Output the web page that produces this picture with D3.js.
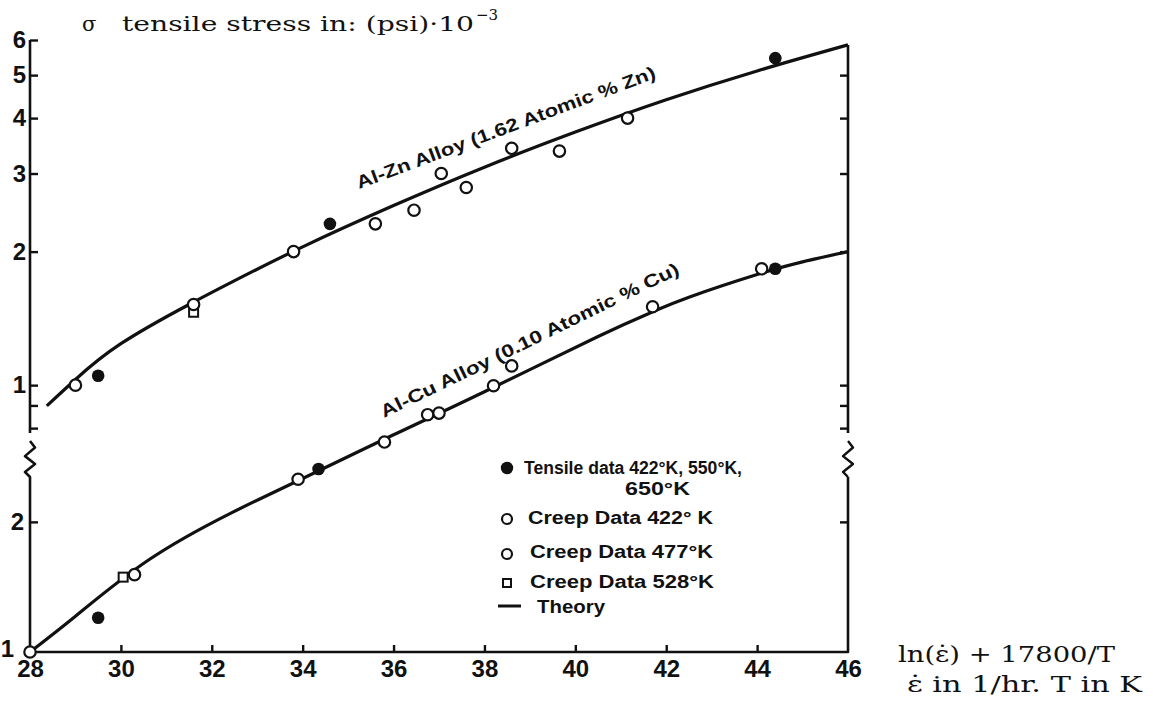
<!DOCTYPE html>
<html>
<head>
<meta charset="utf-8">
<script src="https://cdn.jsdelivr.net/npm/d3@7"></script>
<style>
  body { margin: 0; background: #fff; }
  svg { display: block; }
</style>
</head>
<body>
<svg id="chart" width="1153" height="702"></svg>
<script>
// ---- data -------------------------------------------------------------
// abscissa: ln(strain rate) + 17800/T
const xTicks = [28, 30, 32, 34, 36, 38, 40, 42, 44, 46];

// upper stress scale (Al-Zn), (psi)*10^-3
const znTicks = [0.8, 0.9, 1, 2, 3, 4, 5, 6];
const znTickLabels = ["", "", "1", "2", "3", "4", "5", "6"];

// lower stress scale (Al-Cu)
const cuTicks = [1, 2];
const cuTickLabels = ["1", "2"];

// Al-Zn alloy (1.62 atomic % Zn)
const znTheory = [[28.37, 0.898], [29, 1.03], [30, 1.24], [31.5, 1.52], [32.6, 1.74],
  [34, 2.05], [36, 2.54], [38, 3.10], [40, 3.72], [42, 4.40], [44, 5.11], [46, 5.85]];
const znTensile = [[29.5, 1.05], [34.6, 2.31], [44.4, 5.46]];
const znCreep = [[29.0, 1.0], [31.6, 1.52], [33.8, 2.0], [35.6, 2.31], [36.45, 2.48],
  [37.05, 3.0], [37.6, 2.79], [38.6, 3.42], [39.65, 3.37], [41.15, 4.0]];
const znCreep528 = [[31.6, 1.46]];

// Al-Cu alloy (0.10 atomic % Cu)
const cuTheory = [[28, 1.0], [29, 1.21], [30.6, 1.63], [32.4, 2.09], [34, 2.52],
  [36, 3.18], [38, 4.0], [40.5, 5.37], [41.7, 6.12], [42.5, 6.62], [44, 7.47],
  [45, 7.99], [46, 8.44]];
const cuTensile = [[29.5, 1.2], [34.35, 2.65], [44.4, 7.7]];
const cuCreep = [[28, 1.0], [30.3, 1.51], [33.9, 2.51], [35.8, 3.06], [36.75, 3.54],
  [37.0, 3.57], [38.2, 4.13], [38.6, 4.59], [41.7, 6.29], [44.1, 7.7]];
const cuCreep528 = [[30.05, 1.49]];

const legendLabels = ["Tensile data 422°K, 550°K,", "650°K", "Creep Data 422° K",
  "Creep Data 477°K", "Creep Data 528°K", "Theory"];
const curveLabels = ["Al-Zn Alloy (1.62 Atomic % Zn)", "Al-Cu Alloy (0.10 Atomic % Cu)"];

// ---- scales -----------------------------------------------------------
const svg = d3.select("#chart");
const ink = "#111";

const x = d3.scaleLinear().domain([28, 46]).range([30, 848]);
const yZn = d3.scaleLog().domain([0.78, 6]).range([433, 40]);
const yCu = d3.scaleLog().domain([1, 2.54]).range([652, 477]);

const xL = x(28), xR = x(46);
const yBottom = yCu(1);
const brkTop = yZn.range()[0] + 8;
const brkBot = yCu.range()[1];

const sansBold = "'Liberation Sans', Arial, sans-serif";
const serif = "'DejaVu Serif', 'Liberation Serif', serif";

// ---- frame with broken ordinate --------------------------------------
function zigzag(px) {
  const h = brkBot - brkTop;
  return `L${px},${brkTop} L${px + 5},${brkTop + h * 0.18} L${px - 5},${brkTop + h * 0.42} ` +
         `L${px + 5},${brkTop + h * 0.64} L${px - 5},${brkTop + h * 0.86} L${px},${brkBot}`;
}
const rightTop = yZn(znTheory[znTheory.length - 1][1]);
const framePath =
  `M${xL},${yZn(6)} L${xL},${yZn.range()[0]} M${xL},${brkTop} ${zigzag(xL)} ` +
  `L${xL},${yBottom} L${xR},${yBottom} L${xR},${brkBot} ` +
  `M${xR},${yZn.range()[0]} L${xR},${rightTop}`;
svg.append("path").attr("d", framePath)
  .attr("fill", "none").attr("stroke", ink).attr("stroke-width", 2.6)
  .attr("stroke-linejoin", "round");
svg.append("path")
  .attr("d", `M${xR},${brkTop} ${zigzag(xR)}`)
  .attr("fill", "none").attr("stroke", ink).attr("stroke-width", 2.4)
  .attr("stroke-linejoin", "round");

function styleAxis(g, size) {
  g.select(".domain").remove();
  g.selectAll(".tick line").attr("stroke", ink).attr("stroke-width", 2.4);
  g.selectAll(".tick text").attr("fill", ink)
    .style("font-family", sansBold).style("font-weight", "bold")
    .style("font-size", size + "px");
}

// left ordinate, upper part
svg.append("g").attr("transform", `translate(${xL},0)`)
  .call(d3.axisLeft(yZn).tickValues(znTicks)
    .tickFormat(d => znTickLabels[znTicks.indexOf(d)])
    .tickSizeInner(-8).tickSizeOuter(0).tickPadding(4))
  .call(g => styleAxis(g, 24));

// left ordinate, lower part
svg.append("g").attr("transform", `translate(${xL},0)`)
  .call(d3.axisLeft(yCu).tickValues(cuTicks)
    .tickFormat(d => cuTickLabels[cuTicks.indexOf(d)])
    .tickSizeInner(-8).tickSizeOuter(0).tickPadding(6))
  .call(g => styleAxis(g, 24))
  .call(g => g.selectAll(".tick").filter(d => d === 1).select("text").attr("x", -16).attr("dy", "0.2em"))
  .call(g => g.selectAll(".tick").filter(d => d === 1).select("line").remove());

// right ordinate ticks
svg.append("g").attr("transform", `translate(${xR},0)`)
  .call(d3.axisRight(yZn).tickValues(znTicks.filter(d => d < 6)).tickFormat("")
    .tickSizeInner(-8).tickSizeOuter(0))
  .call(g => styleAxis(g, 24));
svg.append("g").attr("transform", `translate(${xR},0)`)
  .call(d3.axisRight(yCu).tickValues([2]).tickFormat("")
    .tickSizeInner(-8).tickSizeOuter(0))
  .call(g => styleAxis(g, 24));

// abscissa
svg.append("g").attr("transform", `translate(0,${yBottom})`)
  .call(d3.axisBottom(x).tickValues(xTicks).tickFormat(d3.format("d"))
    .tickSizeInner(-7).tickSizeOuter(0).tickPadding(8))
  .call(g => styleAxis(g, 24))
  .call(g => g.selectAll(".tick").filter(d => d === 28 || d === 46).select("line").remove());

// ---- theory curves ----------------------------------------------------
const lineZn = d3.line().x(d => x(d[0])).y(d => yZn(d[1])).curve(d3.curveNatural);
const lineCu = d3.line().x(d => x(d[0])).y(d => yCu(d[1])).curve(d3.curveNatural);

svg.append("path").datum(znTheory).attr("d", lineZn)
  .attr("fill", "none").attr("stroke", ink).attr("stroke-width", 3.2);
svg.append("path").datum(cuTheory).attr("d", lineCu)
  .attr("fill", "none").attr("stroke", ink).attr("stroke-width", 3.2);

// ---- data points ------------------------------------------------------
function openCircles(data, ys) {
  svg.append("g").selectAll("circle").data(data).join("circle")
    .attr("cx", d => x(d[0])).attr("cy", d => ys(d[1])).attr("r", 5.7)
    .attr("fill", "#fff").attr("stroke", ink).attr("stroke-width", 2.2);
}
function filledCircles(data, ys) {
  svg.append("g").selectAll("circle").data(data).join("circle")
    .attr("cx", d => x(d[0])).attr("cy", d => ys(d[1])).attr("r", 6.3)
    .attr("fill", ink);
}
function squares(data, ys) {
  svg.append("g").selectAll("rect").data(data).join("rect")
    .attr("x", d => x(d[0]) - 4.5).attr("y", d => ys(d[1]) - 4.5)
    .attr("width", 9).attr("height", 9)
    .attr("fill", "#fff").attr("stroke", ink).attr("stroke-width", 2);
}
squares(znCreep528, yZn);
openCircles(znCreep, yZn);
filledCircles(znTensile, yZn);
squares(cuCreep528, yCu);
openCircles(cuCreep, yCu);
filledCircles(cuTensile, yCu);

// ---- curve labels -----------------------------------------------------
function slanted(txt, px, py, angle, len) {
  svg.append("text")
    .attr("transform", `translate(${px},${py}) rotate(${angle})`)
    .attr("textLength", len).attr("lengthAdjust", "spacingAndGlyphs")
    .style("font-family", sansBold).style("font-weight", "bold").style("font-size", "18px")
    .attr("fill", ink).text(txt);
}
slanted(curveLabels[0], 359, 189, -20.5, 318);
slanted(curveLabels[1], 384, 418, -26, 330);

// ---- legend -----------------------------------------------------------
const lg = svg.append("g");
function legendText(txt, px, py, len) {
  lg.append("text").attr("x", px).attr("y", py)
    .attr("textLength", len).attr("lengthAdjust", "spacingAndGlyphs")
    .style("font-family", sansBold).style("font-weight", "bold").style("font-size", "18px")
    .attr("fill", ink).text(txt);
}
lg.append("circle").attr("cx", 507).attr("cy", 468).attr("r", 6.2).attr("fill", ink);
legendText(legendLabels[0], 524, 474, 218);
legendText(legendLabels[1], 625, 495, 65);
lg.append("circle").attr("cx", 507).attr("cy", 519).attr("r", 5).attr("fill", "#fff")
  .attr("stroke", ink).attr("stroke-width", 2.2);
legendText(legendLabels[2], 528, 524, 185);
lg.append("circle").attr("cx", 507).attr("cy", 554).attr("r", 5).attr("fill", "#fff")
  .attr("stroke", ink).attr("stroke-width", 2.2);
legendText(legendLabels[3], 530, 558, 183);
lg.append("rect").attr("x", 503).attr("y", 579).attr("width", 8).attr("height", 8)
  .attr("fill", "#fff").attr("stroke", ink).attr("stroke-width", 2);
legendText(legendLabels[4], 530, 588, 184);
lg.append("line").attr("x1", 498).attr("x2", 521).attr("y1", 606).attr("y2", 606)
  .attr("stroke", ink).attr("stroke-width", 3);
legendText(legendLabels[5], 537, 613, 68);

// ---- axis titles ------------------------------------------------------
svg.append("text").attr("x", 82).attr("y", 31).attr("fill", ink)
  .style("font-family", serif).style("font-size", "21px").text("σ");
svg.append("text").attr("x", 122).attr("y", 31).attr("fill", ink)
  .attr("textLength", 352).attr("lengthAdjust", "spacingAndGlyphs")
  .style("font-family", serif).style("font-size", "21px")
  .text("tensile stress in: (psi)·10");
svg.append("text").attr("x", 476).attr("y", 20).attr("fill", ink)
  .style("font-family", serif).style("font-size", "15px").text("−3");

svg.append("text").attr("x", 898).attr("y", 662).attr("fill", ink)
  .attr("textLength", 217).attr("lengthAdjust", "spacingAndGlyphs")
  .style("font-family", serif).style("font-size", "22px")
  .text("ln(ε̇) + 17800/T");
svg.append("text").attr("x", 907).attr("y", 692).attr("fill", ink)
  .attr("textLength", 235).attr("lengthAdjust", "spacingAndGlyphs")
  .style("font-family", serif).style("font-size", "22px")
  .text("ε̇ in 1/hr. T in K");
</script>
</body>
</html>
